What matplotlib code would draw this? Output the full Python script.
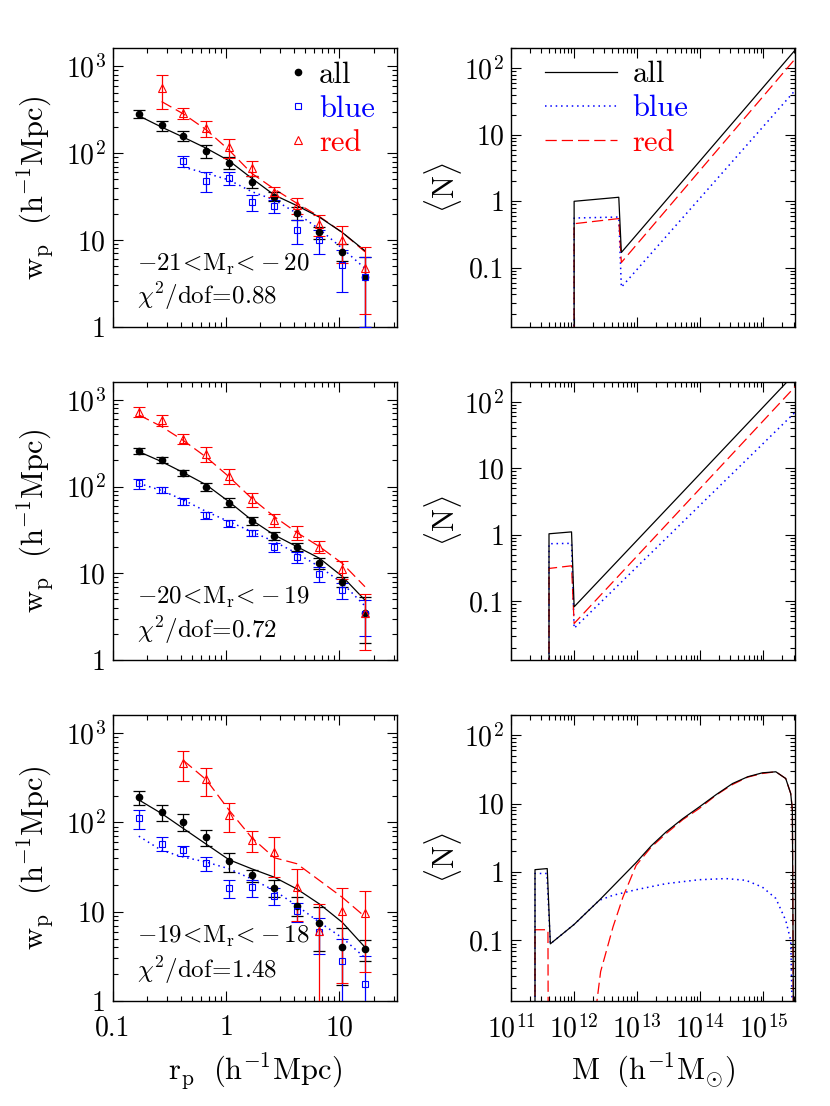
import numpy as np
import matplotlib
matplotlib.use('Agg')
import matplotlib.pyplot as plt
from matplotlib.lines import Line2D
from matplotlib.ticker import FixedLocator, FixedFormatter, LogLocator, NullFormatter

plt.rcParams['font.family'] = 'serif'
plt.rcParams['font.serif'] = ['cmr10']
plt.rcParams['mathtext.fontset'] = 'cm'
plt.rcParams['axes.formatter.use_mathtext'] = True

# projected separations (h^-1 Mpc)
rp = [0.17, 0.27, 0.42, 0.67, 1.06, 1.68, 2.66, 4.21, 6.67, 10.6, 16.8]

# -21 < Mr < -20
wp21_all = [284, 209, 160, 106, 78, 47, 31.6, 20.7, 12.2, 7.3, 3.7]
err21_all = [31, 29, 20, 17, 12, 7.6, 3.8, 3.6, 2.0, 1.6, 2.7]
wp21_blue = [82, 48, 52, 27.2, 24.9, 13.0, 10.0, 5.1, 3.7]
err21_blue = [12, 12, 8.5, 5.4, 4.3, 4.0, 3.1, 2.6, 2.7]
wp21_red = [562, 290, 194, 117, 68, 36, 25.3, 15.3, 10.0, 4.8]
err21_red = [240, 44, 42, 28, 14, 4.8, 5.2, 4.1, 4.6, 3.4]
mod21_all = [270, 200, 153, 114, 82, 51.5, 33, 24.9, 18.3, 12.2, 7.5]
mod21_blue = [69, 58.8, 49.2, 36.1, 29, 20.3, 13.3, 8.0, 4.7]
mod21_red = [394, 284, 186, 109, 58.8, 38.7, 26.5, 18.6, 12.2, 7.3]

# -20 < Mr < -19
wp20_all = [260, 203, 145, 100, 65.4, 40.5, 27, 20.3, 13.0, 8.0, 3.45]
err20_all = [20, 16, 12, 10.5, 7.6, 4, 2.6, 2, 1.9, 1.0, 1.9]
wp20_blue = [109, 91.5, 67, 46.7, 37.8, 29, 20, 15.3, 9.8, 6.4, 3.4]
err20_blue = [14, 8, 6, 4.7, 3.3, 2.3, 2.6, 2.2, 1.9, 1.4, 1.5]
wp20_red = [733, 588, 355, 238, 133, 71.4, 41.2, 29.5, 20.3, 11.2, 3.5]
err20_red = [100, 84, 45, 45, 27, 13, 7, 5.2, 3, 2.5, 2.2]
mod20_all = [253, 194, 145, 104.5, 67, 41.2, 27.7, 20.3, 14.9, 9.2, 4.9]
mod20_blue = [109, 90, 70.2, 51.5, 39.5, 30.3, 23.2, 17, 11.9, 7.7, 4.2]
mod20_red = [671, 492, 340, 218, 130, 73.3, 45.1, 29.5, 20.3, 13.0, 7.0]

# -19 < Mr < -18
wp19_all = [191, 130, 102, 69, 37, 25.7, 18.5, 11.7, 7.4, 4.0, 3.8]
err19_all = [35, 25, 21, 14, 9, 4, 4, 2.8, 3.8, 2.5, 1.0]
wp19_blue = [111, 58, 48.7, 35.1, 18.5, 18.8, 15.1, 10.1, 6.0, 2.8, 1.56]
err19_blue = [26, 10.5, 6.3, 6.4, 4.2, 4.0, 3.3, 2.4, 2.6, 2.1, 1.6]
wp19_red = [463, 305, 121, 63.2, 46.7, 19.1, 6.1, 10.1, 9.6]
err19_red = [173, 105, 43, 16.5, 22, 11.3, 6.1, 8.5, 7.5]
mod19_all = [179, 126, 85.6, 57, 38.3, 30.3, 24.4, 18, 12.2, 7.6, 4.0]
mod19_blue = [70.2, 48.7, 41, 36, 30.3, 23.3, 17.3, 11.7, 7.6, 5.1, 3.05]
mod19_red = [496, 300, 138, 67.8, 40.3, 34.5, 22.4, 14.5, 8.8]

samples = [r'$-21\!<\!\mathrm{M_r}\!<\!-20$', r'$-20\!<\!\mathrm{M_r}\!<\!-19$', r'$-19\!<\!\mathrm{M_r}\!<\!-18$']
chi2 = ['0.88', '0.72', '1.48']

# HOD <N>(M)
hod21_M = [1e12, 1e12, 5.1e12, 5.6e12, 3.2e15]
hod21_all = [1e-3, 1.0, 1.15, 0.17, 190]
hod21_blue = [1e-3, 0.56, 0.58, 0.051, 47]
hod21_red = [1e-3, 0.46, 0.55, 0.12, 140]

hod20_M = [4e11, 4e11, 9.1e11, 1e12, 3.2e15]
hod20_all = [1e-3, 1.03, 1.1, 0.082, 270]
hod20_blue = [1e-3, 0.73, 0.74, 0.039, 70]
hod20_red = [1e-3, 0.31, 0.34, 0.046, 170]

hod19_M_all = [2.4e11, 2.4e11, 3.75e11, 4.2e11, 1e12, 2.5e12, 9.6e12, 1.66e13, 2.87e13, 5.25e13,
               9.6e13, 1.78e14, 3.24e14, 5.62e14, 9.6e14, 1.57e15, 2.25e15, 2.7e15, 2.87e15, 3.01e15]
hod19_all = [1e-3, 1.08, 1.12, 0.089, 0.171, 0.385, 1.37, 2.4, 3.85, 6.0,
             8.9, 13.5, 19.6, 24.6, 28.1, 29.1, 23.2, 14, 8.0, 1e-3]
hod19_M_blue = [2.4e11, 2.4e11, 3.7e11, 4.2e11, 1e12, 2.5e12, 4.13e12, 9.6e12, 2.87e13, 9.6e13,
                2.54e14, 5.26e14, 9.6e14, 1.57e15, 2.25e15, 2.7e15, 3.01e15]
hod19_blue = [1e-3, 0.95, 0.95, 0.089, 0.171, 0.385, 0.456, 0.55, 0.675, 0.77,
              0.8, 0.755, 0.6, 0.41, 0.196, 0.1, 1e-3]
hod19_M_red = [2.4e11, 2.4e11, 3.85e11, 3.9e11, 2.2e12, 2.3e12, 2.63e12, 3.05e12, 4.13e12, 5.94e12,
               9.6e12, 1.66e13, 2.87e13, 5.25e13, 9.6e13, 1.78e14, 3.24e14, 5.62e14, 9.6e14, 1.57e15,
               2.25e15, 2.7e15, 2.87e15, 3.01e15]
hod19_red = [1e-3, 0.143, 0.143, 1e-3, 1e-3, 0.013, 0.035, 0.057, 0.157, 0.43,
             1.25, 2.3, 3.64, 5.8, 8.45, 13.3, 19, 24.3, 27.5, 29.1,
             23.2, 14, 8.0, 1e-3]

W, H = 830, 1106
fig = plt.figure(figsize=(W / 100, H / 100), dpi=100)
rows = [(48.3, 326.7), (381.7, 660.0), (714.5, 1001.0)]
lx0, lw = 112.7, 284.0
rx0, rw = 511.0, 283.5

def frame(ax):
    ax.tick_params(which='both', direction='in', top=True, right=True, labelsize=20, width=0.8)
    ax.tick_params(which='major', length=7.5)
    ax.tick_params(which='minor', length=3.8)
    ax.tick_params(axis='y', which='major', pad=5)
    ax.tick_params(axis='x', which='major', pad=10)
    for s in ax.spines.values():
        s.set_linewidth(1.0)

left_data = [
    (wp21_all, err21_all, wp21_blue, err21_blue, 2, wp21_red, err21_red, 1, mod21_all, mod21_blue, 2, mod21_red, 1),
    (wp20_all, err20_all, wp20_blue, err20_blue, 0, wp20_red, err20_red, 0, mod20_all, mod20_blue, 0, mod20_red, 0),
    (wp19_all, err19_all, wp19_blue, err19_blue, 0, wp19_red, err19_red, 2, mod19_all, mod19_blue, 0, mod19_red, 2),
]
right_data = [
    (hod21_M, hod21_all, hod21_M, hod21_blue, hod21_M, hod21_red),
    (hod20_M, hod20_all, hod20_M, hod20_blue, hod20_M, hod20_red),
    (hod19_M_all, hod19_all, hod19_M_blue, hod19_blue, hod19_M_red, hod19_red),
]

for i, (top, bot) in enumerate(rows):
    b = 1 - bot / H
    h = (bot - top) / H
    # ---- left: wp(rp)
    ax = fig.add_axes([lx0 / W, b, lw / W, h])
    (wa, ea, wb, eb, ib, wr, er, ir, ma, mb, jb, mr, jr) = left_data[i]
    ax.plot(rp, ma, color='k', lw=0.9, zorder=3)
    ax.plot(rp[jb:], mb, color='b', lw=1.1, ls=(0, (1, 2.5)), zorder=2)
    ax.plot(rp[jr:], mr, color='r', lw=0.9, ls=(0, (9, 4)), zorder=2)
    ax.errorbar(rp, wa, yerr=ea, fmt='o', color='k', ms=4.5, capsize=4.3, elinewidth=0.9, capthick=0.9, zorder=4)
    ax.errorbar(rp[ib:], wb, yerr=eb, fmt='s', color='b', mfc='none', mew=0.8, ms=5, capsize=4.3,
                elinewidth=0.9, capthick=0.9, zorder=4)
    ax.errorbar(rp[ir:], wr, yerr=er, fmt='^', color='r', mfc='none', mew=0.8, ms=6, capsize=4.3,
                elinewidth=0.9, capthick=0.9, zorder=4)
    ax.set_xscale('log')
    ax.set_yscale('log')
    ax.set_xlim(0.1, 32)
    ax.set_ylim(1, 1620)
    ax.yaxis.set_major_locator(FixedLocator([1, 10, 100, 1000]))
    ax.yaxis.set_major_formatter(FixedFormatter(['1', '10', r'$10^2$', r'$10^3$']))
    ax.yaxis.set_minor_locator(LogLocator(subs=range(2, 10)))
    ax.yaxis.set_minor_formatter(NullFormatter())
    ax.xaxis.set_major_locator(FixedLocator([0.1, 1, 10]))
    ax.xaxis.set_minor_locator(LogLocator(subs=range(2, 10)))
    ax.xaxis.set_minor_formatter(NullFormatter())
    if i == 2:
        ax.xaxis.set_major_formatter(FixedFormatter(['0.1', '1', '10']))
        ax.set_xlabel(r'$\mathrm{r_p}\ \ \mathrm{(h^{-1}Mpc)}$', fontsize=22)
        ax.xaxis.set_label_coords(0.5, -0.175)
    else:
        ax.xaxis.set_major_formatter(NullFormatter())
    ax.set_ylabel(r'$\mathrm{w_p}\ \ \mathrm{(h^{-1}Mpc)}$', fontsize=22)
    ax.yaxis.set_label_coords(-0.2, 0.5)
    frame(ax)
    ax.text(0.085, 0.225, samples[i], transform=ax.transAxes, fontsize=18, va='center', ha='left')
    ax.text(0.085, 0.108, r'$\chi^2/\mathrm{dof}\!=\!' + chi2[i] + '$', transform=ax.transAxes,
            fontsize=18, va='center', ha='left')
    if i == 0:
        handles = [Line2D([], [], marker='o', ls='none', color='k', ms=4.5),
                   Line2D([], [], marker='s', ls='none', color='b', mfc='none', mew=0.8, ms=5),
                   Line2D([], [], marker='^', ls='none', color='r', mfc='none', mew=0.8, ms=6)]
        leg = ax.legend(handles, ['all', 'blue', 'red'], loc='upper left', bbox_to_anchor=(0.608, 0.953),
                        frameon=False, fontsize=22, handlelength=0.8, handletextpad=0.3,
                        labelspacing=0.22, borderpad=0, borderaxespad=0)
        for t, c in zip(leg.get_texts(), ['k', 'b', 'r']):
            t.set_color(c)

    # ---- right: <N>(M)
    ax = fig.add_axes([rx0 / W, b, rw / W, h])
    Ma, Na, Mb, Nb, Mr, Nr = right_data[i]
    ax.plot(Mb, Nb, color='b', lw=1.1, ls=(0, (1, 2.5)), label='blue', zorder=2)
    ax.plot(Mr, Nr, color='r', lw=0.9, ls=(0, (9, 4)), label='red', zorder=2)
    ax.plot(Ma, Na, color='k', lw=0.9, label='all', zorder=3)
    ax.set_xscale('log')
    ax.set_yscale('log')
    ax.set_xlim(1e11, 3.1e15)
    ax.set_ylim(0.013, 200)
    ax.yaxis.set_major_locator(FixedLocator([0.1, 1, 10, 100]))
    ax.yaxis.set_major_formatter(FixedFormatter(['0.1', '1', '10', r'$10^2$']))
    ax.yaxis.set_minor_locator(LogLocator(subs=range(2, 10)))
    ax.yaxis.set_minor_formatter(NullFormatter())
    ax.xaxis.set_major_locator(FixedLocator([1e11, 1e12, 1e13, 1e14, 1e15]))
    ax.xaxis.set_minor_locator(LogLocator(subs=range(2, 10), numticks=20))
    ax.xaxis.set_minor_formatter(NullFormatter())
    if i == 2:
        ax.xaxis.set_major_formatter(FixedFormatter([r'$10^{11}$', r'$10^{12}$', r'$10^{13}$',
                                                     r'$10^{14}$', r'$10^{15}$']))
        ax.set_xlabel(r'$\mathrm{M}\ \ \mathrm{(h^{-1}M_{\odot})}$', fontsize=22)
        ax.xaxis.set_label_coords(0.5, -0.175)
    else:
        ax.xaxis.set_major_formatter(NullFormatter())
    ax.set_ylabel(r'$\langle\mathrm{N}\rangle$', fontsize=22)
    ax.yaxis.set_label_coords(-0.165, 0.5)
    frame(ax)
    if i == 0:
        hs, ls = ax.get_legend_handles_labels()
        order = [ls.index('all'), ls.index('blue'), ls.index('red')]
        leg = ax.legend([hs[k] for k in order], ['all', 'blue', 'red'], loc='upper left',
                        bbox_to_anchor=(0.12, 0.955), frameon=False, fontsize=22,
                        handlelength=2.35, handletextpad=0.52, labelspacing=0.22,
                        borderpad=0, borderaxespad=0)
        for t, c in zip(leg.get_texts(), ['k', 'b', 'r']):
            t.set_color(c)

fig.savefig('out.png', dpi=100)
